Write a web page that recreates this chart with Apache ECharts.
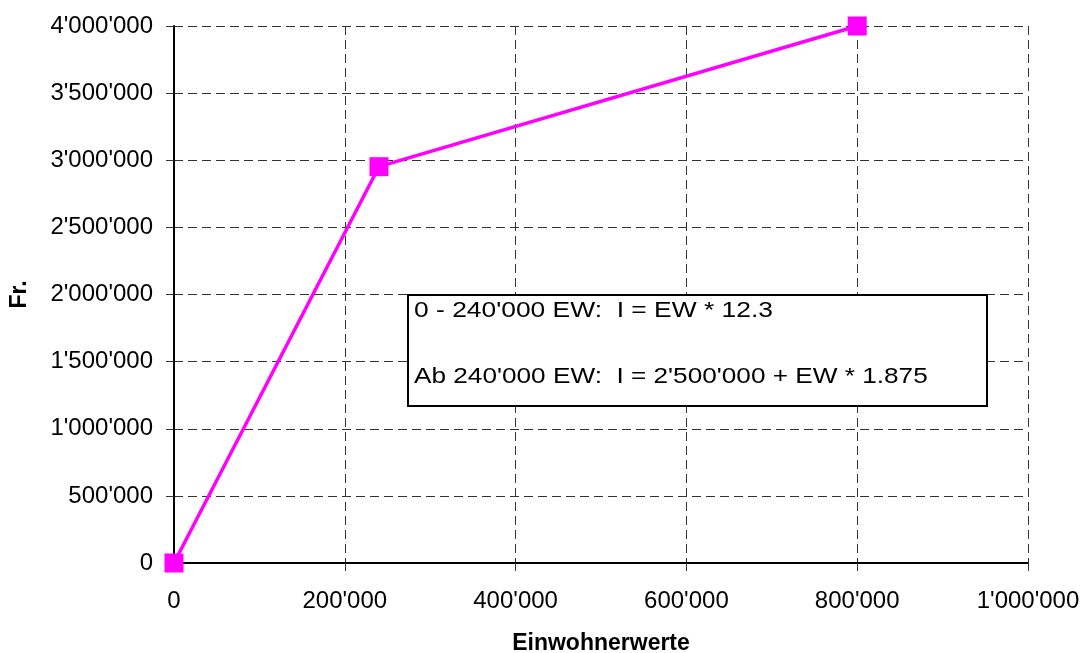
<!DOCTYPE html>
<html>
<head>
<meta charset="utf-8">
<script src="https://cdn.jsdelivr.net/npm/echarts@6/dist/echarts.min.js"></script>
<style>
html,body{margin:0;padding:0;background:#fff;}
#chart{width:1083px;height:653px;}
</style>
</head>
<body>
<div id="chart"></div>
<script>
const einwohnerwerte = [0, 240000, 800000];
const franken = [0, 2952000, 4000000];
const xTicks = [0, 200000, 400000, 600000, 800000, 1000000];
const yTicks = [0, 500000, 1000000, 1500000, 2000000, 2500000, 3000000, 3500000, 4000000];
const noteLines = ["0 - 240'000 EW:  I = EW * 12.3", "Ab 240'000 EW:  I = 2'500'000 + EW * 1.875"];
const xTitle = "Einwohnerwerte";
const yTitle = "Fr.";

function fmt(v){
  return String(Math.round(v)).replace(/\B(?=(\d{3})+(?!\d))/g, "'");
}
const FONT = '"Liberation Sans", Arial, sans-serif';
const gridLine = {show:true, lineStyle:{color:'#333', width:1, type:[9,5]}};

const chart = echarts.init(document.getElementById('chart'), null, {renderer:'canvas'});
chart.setOption({
  animation:false,
  backgroundColor:'#fff',
  grid:{left:174, right:55, top:26, bottom:90, containLabel:false, outerBoundsMode:'none'},
  xAxis:{
    type:'value', min:xTicks[0], max:xTicks[xTicks.length-1], interval:xTicks[1]-xTicks[0],
    name:xTitle, nameLocation:'middle', nameGap:69,
    nameTextStyle:{fontFamily:FONT, fontSize:23, fontWeight:'bold', color:'#000'},
    axisLine:{show:true, onZero:false, lineStyle:{color:'#000', width:2}},
    axisTick:{show:true, length:8, lineStyle:{color:'#333', width:1}},
    axisLabel:{fontFamily:FONT, fontSize:24, color:'#000', margin:26, formatter:fmt},
    splitLine:gridLine
  },
  yAxis:{
    type:'value', min:yTicks[0], max:yTicks[yTicks.length-1], interval:yTicks[1]-yTicks[0],
    name:yTitle, nameLocation:'middle', nameGap:143, nameRotate:90,
    nameTextStyle:{fontFamily:FONT, fontSize:23, fontWeight:'bold', color:'#000'},
    axisLine:{show:true, onZero:false, lineStyle:{color:'#000', width:2}},
    axisTick:{show:true, length:8, lineStyle:{color:'#333', width:1}},
    axisLabel:{fontFamily:FONT, fontSize:24, color:'#000', margin:21, formatter:fmt},
    splitLine:gridLine
  },
  series:[{
    type:'line',
    data:einwohnerwerte.map((x,i)=>[x, franken[i]]),
    symbol:'rect', symbolSize:19,
    lineStyle:{color:'#ff00ff', width:3.5},
    itemStyle:{color:'#ff00ff'},
    z:5
  }],
  graphic:[
    {type:'rect', left:407, top:294, z:100,
     shape:{width:579, height:111},
     style:{fill:'#fff', stroke:'#000', lineWidth:2}},
    {type:'text', x:414, y:311, scaleX:1.2, z:101,
     style:{text:noteLines[0], x:0, y:0, align:'left', verticalAlign:'middle', fill:'#000', font:'22px "Liberation Sans", Arial, sans-serif'}},
    {type:'text', x:414, y:377, scaleX:1.19, z:101,
     style:{text:noteLines[1], x:0, y:0, align:'left', verticalAlign:'middle', fill:'#000', font:'22px "Liberation Sans", Arial, sans-serif'}}
  ]
});
</script>
</body>
</html>
